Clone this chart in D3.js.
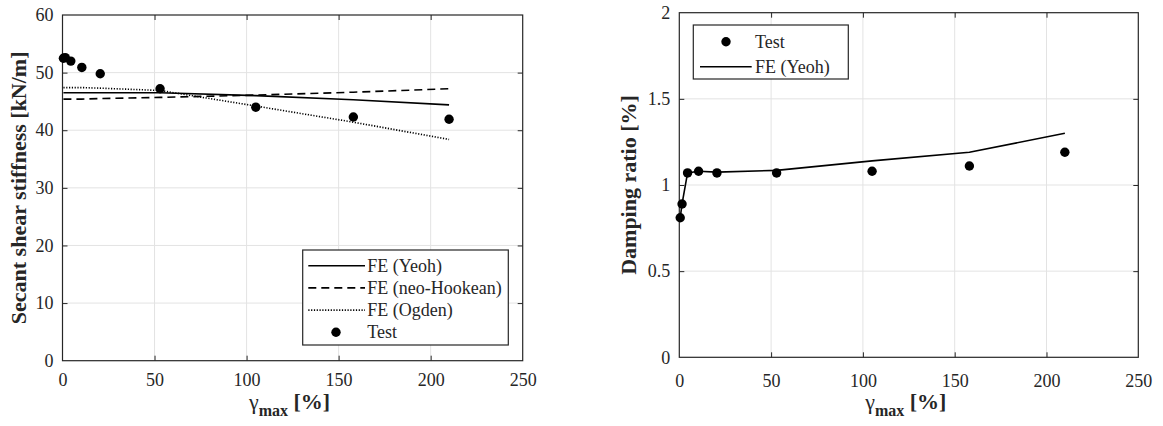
<!DOCTYPE html>
<html>
<head>
<meta charset="utf-8">
<script src="https://cdn.jsdelivr.net/npm/d3@7"></script>
<style>
  body { margin: 0; background: #fff; }
  svg, svg text { font-family: "Liberation Serif", "Times New Roman", "DejaVu Serif", serif; }
  .tick text { font-size: 18px; fill: #262626; }
</style>
</head>
<body>
<div id="chart"></div>
<script>
// shear strain amplitude, shared by both panels
var strainPct = [0.5, 1.5, 4.5, 10.5, 20.5, 53, 105, 158, 210];

// secant shear stiffness [kN/m]
var stiffTest  = [52.5, 52.6, 52.0, 50.9, 49.8, 47.2, 44.0, 42.3, 41.9];
var stiffYeoh  = [46.5, 46.5, 46.5, 46.5, 46.5, 46.5, 46.0, 45.3, 44.4];
var stiffNeo   = [45.4, 45.4, 45.4, 45.4, 45.5, 45.7, 46.1, 46.6, 47.2];
var stiffOgden = [47.4, 47.4, 47.4, 47.4, 47.3, 46.9, 44.2, 41.4, 38.4];

// damping ratio [%]
var dampTest = [0.81, 0.89, 1.07, 1.08, 1.07, 1.07, 1.08, 1.11, 1.19];
var dampYeoh = [0.81, 0.89, 1.07, 1.08, 1.075, 1.085, 1.14, 1.19, 1.30];

var xTicks      = [0, 50, 100, 150, 200, 250];
var stiffTicks  = [0, 10, 20, 30, 40, 50, 60];
var dampTicks   = [0, 0.5, 1, 1.5, 2];
var dampLabels  = ["0", "0.5", "1", "1.5", "2"];

var W = 1163, H = 426;
var ink = "#262626";
var serif = "'Liberation Serif', 'Times New Roman', serif";

var svg = d3.select("#chart").append("svg")
  .attr("width", W).attr("height", H)
  .attr("font-family", serif);
svg.append("rect").attr("width", W).attr("height", H).attr("fill", "#fff");

var dashes = { solid: null, dashed: "8,5", dotted: "1.2,1.6" };

function drawPanel(p) {
  var x = d3.scaleLinear().domain([0, 250]).range([p.left, p.right]);
  var y = d3.scaleLinear().domain(p.yDomain).range([p.bottom, p.top]);
  var g = svg.append("g");

  // grid
  g.append("g").selectAll("line").data(xTicks.slice(1, -1)).join("line")
    .attr("x1", d => x(d)).attr("x2", d => x(d))
    .attr("y1", p.top).attr("y2", p.bottom)
    .attr("stroke", "#e3e3e3").attr("stroke-width", 1);
  g.append("g").selectAll("line").data(p.yTicks.slice(1, -1)).join("line")
    .attr("x1", p.left).attr("x2", p.right)
    .attr("y1", d => y(d)).attr("y2", d => y(d))
    .attr("stroke", "#e3e3e3").attr("stroke-width", 1);

  // axes, ticks pointing inward on all four sides
  var ax = [
    [d3.axisBottom(x).tickValues(xTicks).tickSizeInner(-5).tickSizeOuter(0).tickPadding(p.xPad), "translate(0," + p.bottom + ")"],
    [d3.axisTop(x).tickValues(xTicks).tickSizeInner(-5).tickSizeOuter(0).tickFormat(""), "translate(0," + p.top + ")"],
    [d3.axisLeft(y).tickValues(p.yTicks).tickSizeInner(-5).tickSizeOuter(0).tickPadding(p.yPad)
        .tickFormat((d, i) => p.yLabels[i]), "translate(" + p.left + ",0)"],
    [d3.axisRight(y).tickValues(p.yTicks).tickSizeInner(-5).tickSizeOuter(0).tickFormat(""), "translate(" + p.right + ",0)"]
  ];
  ax.forEach(function (a) {
    var s = g.append("g").attr("transform", a[1]).call(a[0]);
    s.attr("font-family", serif).attr("font-size", 18);
    s.select(".domain").remove();
    s.selectAll(".tick line").attr("stroke", ink);
    s.selectAll(".tick text").attr("font-family", serif).attr("fill", ink);
    // skip tick marks sitting on the box corners
    var dom = a[0].scale().domain();
    s.selectAll(".tick").filter(d => d === dom[0] || d === dom[1])
      .select("line").remove();
  });

  g.append("rect")
    .attr("x", p.left).attr("y", p.top)
    .attr("width", p.right - p.left).attr("height", p.bottom - p.top)
    .attr("fill", "none").attr("stroke", ink).attr("stroke-width", 1.2);

  // model curves
  p.lines.forEach(function (ln) {
    var line = d3.line().x((d, i) => x(strainPct[i])).y(d => y(d));
    g.append("path").datum(ln.values)
      .attr("d", line)
      .attr("fill", "none").attr("stroke", "#000")
      .attr("stroke-width", 1.6)
      .attr("stroke-dasharray", dashes[ln.style]);
  });

  // test points
  g.append("g").selectAll("circle").data(p.test).join("circle")
    .attr("cx", (d, i) => x(strainPct[i])).attr("cy", d => y(d))
    .attr("r", 4.7).attr("fill", "#000");

  // y label
  svg.append("text")
    .attr("transform", "translate(" + p.yLabelX + "," + ((p.top + p.bottom) / 2) + ") rotate(-90)")
    .attr("text-anchor", "middle").attr("font-family", serif)
    .attr("font-size", 22).attr("font-weight", "bold").attr("fill", ink)
    .text(p.yTitle);

  // x label: gamma with bold "max" subscript
  var xl = svg.append("text")
    .attr("x", (p.left + p.right) / 2 - 3).attr("y", 409)
    .attr("text-anchor", "middle").attr("font-family", serif).attr("fill", ink);
  xl.append("tspan").attr("font-size", 22).text("γ");
  xl.append("tspan").attr("font-size", 16).attr("font-weight", "bold").attr("dy", 7).text("max");
  xl.append("tspan").attr("font-size", 22).attr("font-weight", "bold").attr("dy", -7).text(" [%]");

  // legend
  var lg = p.legend;
  svg.append("rect")
    .attr("x", lg.x).attr("y", lg.y).attr("width", lg.w).attr("height", lg.h)
    .attr("fill", "#fff").attr("stroke", ink).attr("stroke-width", 1.2);
  lg.items.forEach(function (it, i) {
    var cy = lg.y + lg.first + i * lg.step;
    if (it.style === "marker") {
      svg.append("circle").attr("cx", lg.x + lg.mark).attr("cy", cy).attr("r", 4.7).attr("fill", "#000");
    } else {
      svg.append("line")
        .attr("x1", lg.x + lg.l0).attr("x2", lg.x + lg.l1)
        .attr("y1", cy).attr("y2", cy)
        .attr("stroke", "#000").attr("stroke-width", 1.6)
        .attr("stroke-dasharray", dashes[it.style]);
    }
    svg.append("text")
      .attr("x", lg.x + lg.tx).attr("y", cy + 6)
      .attr("font-family", serif).attr("font-size", 18).attr("fill", ink)
      .text(it.name);
  });
}

drawPanel({
  left: 62.5, right: 522.7, top: 15, bottom: 360.7,
  yDomain: [0, 60], yTicks: stiffTicks, yLabels: stiffTicks.map(String),
  xPad: 13, yPad: 9, yLabelX: 26,
  yTitle: "Secant shear stiffness [kN/m]",
  test: stiffTest,
  lines: [
    { values: stiffYeoh, style: "solid" },
    { values: stiffNeo, style: "dashed" },
    { values: stiffOgden, style: "dotted" }
  ],
  legend: {
    x: 302.7, y: 250, w: 205.6, h: 95, first: 15.7, step: 22.2,
    l0: 5.6, l1: 62.3, mark: 33.3, tx: 64.6,
    items: [
      { name: "FE (Yeoh)", style: "solid" },
      { name: "FE (neo-Hookean)", style: "dashed" },
      { name: "FE (Ogden)", style: "dotted" },
      { name: "Test", style: "marker" }
    ]
  }
});

drawPanel({
  left: 679.3, right: 1138.3, top: 12.7, bottom: 357.3,
  yDomain: [0, 2], yTicks: dampTicks, yLabels: dampLabels,
  xPad: 16.5, yPad: 9, yLabelX: 636,
  yTitle: "Damping ratio [%]",
  test: dampTest,
  lines: [{ values: dampYeoh, style: "solid" }],
  legend: {
    x: 693.3, y: 25, w: 155, h: 54, first: 16.7, step: 25,
    l0: 6.7, l1: 58.4, mark: 32.7, tx: 61.7,
    items: [
      { name: "Test", style: "marker" },
      { name: "FE (Yeoh)", style: "solid" }
    ]
  }
});
</script>
</body>
</html>
